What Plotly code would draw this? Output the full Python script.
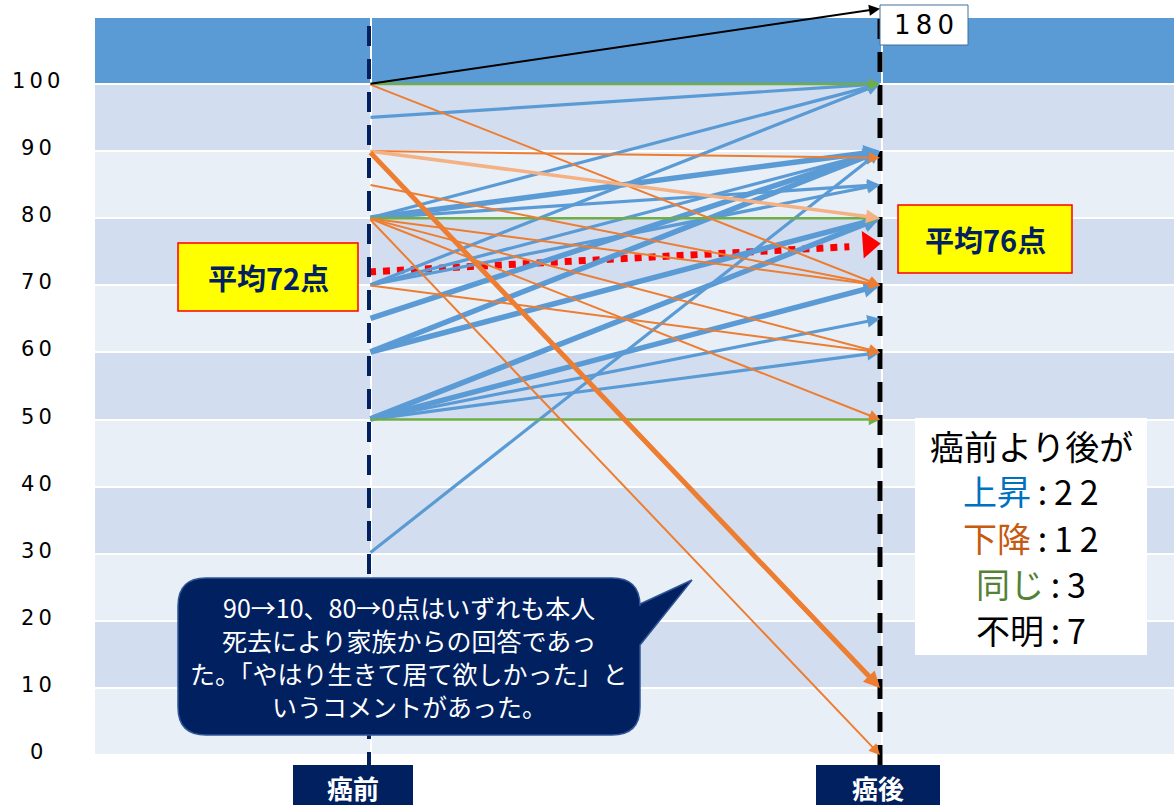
import plotly.graph_objects as go

# ---------------- data ----------------
Y_TICKS = [0, 10, 20, 30, 40, 50, 60, 70, 80, 90, 100]
STAGES = ["癌前", "癌後"]

# rising answers (before -> after) and number of respondents per arrow
UP_BEFORE = [95, 80, 70, 80, 80, 70, 70, 65, 60, 60, 30, 50, 50, 50, 50]
UP_AFTER = [100, 100, 100, 90, 85, 85, 90, 90, 90, 80, 90, 80, 70, 65, 60]
UP_COUNT = [1, 1, 1, 2, 1, 1, 1, 2, 2, 2, 1, 2, 2, 1, 1]

# falling answers
DOWN_BEFORE = [100, 90, 85, 80, 80, 80, 80, 70, 90, 90]
DOWN_AFTER = [70, 89, 70, 70, 60, 50, 0, 60, 80, 10]
DOWN_COUNT = [1, 1, 1, 2, 1, 1, 1, 1, 2, 1]

# unchanged answers
SAME_VALUES = [100, 80, 50]

# off-scale answer
OFF_BEFORE = 100
OFF_LABEL = "180"

MEAN_BEFORE = 72
MEAN_AFTER = 76

SUMMARY_TITLE = "癌前より後が"
SUMMARY_LABELS = ["上昇", "下降", "同じ", "不明"]
SUMMARY_COUNTS = [22, 12, 3, 7]

NOTE_LINES = [
    "90→10、80→0点はいずれも本人",
    "死去により家族からの回答であっ",
    "た。「やはり生きて居て欲しかった」と",
    "いうコメントがあった。",
]

# ---------------- geometry ----------------
W, H = 1174, 805
PL, PR, PT, PB = 95, 1174, 8, 757     # plot area in pixels
K = 6.71                               # px per score point
Y0PX = 755                             # pixel of score 0
X0PX, X1PX = 369, 880                  # pixels of the two stages
XS = X1PX - X0PX

y_min = -(PB - Y0PX) / K
y_max = (Y0PX - PT) / K
x_min = -(X0PX - PL) / XS
x_max = 1 + (PR - X1PX) / XS
OFF_POS = y_max - 0.1                  # display position of off-scale value


def px(xp):
    return (xp - PL) / (PR - PL)


def py(yp):
    return (PB - yp) / (PB - PT)


BLUE = "#5B9BD5"
ORANGE = "#ED7D31"
LORANGE = "#F4B183"
GREEN = "#70AD47"
NAVY = "#002060"
JP = "Noto Sans CJK JP"

fig = go.Figure()

# mean dotted line
x_end = 0.94
y_end = MEAN_BEFORE + (MEAN_AFTER - MEAN_BEFORE) * x_end
fig.add_trace(go.Scatter(x=[0, x_end], y=[MEAN_BEFORE, y_end], mode="lines",
                         line=dict(color="#FF0000", width=7, dash="7px,7px"),
                         hoverinfo="skip", showlegend=False))
x_tri = 0.978
fig.add_trace(go.Scatter(x=[x_tri], y=[MEAN_BEFORE + (MEAN_AFTER - MEAN_BEFORE) * x_tri + 0.2],
                         mode="markers",
                         marker=dict(symbol="triangle-right", size=24, color="#FF0000", angle=-4),
                         hoverinfo="skip", showlegend=False))

shapes = []
# bands
for i, v in enumerate(Y_TICKS[:-1]):
    shapes.append(dict(type="rect", xref="paper", yref="y", x0=0, x1=1, y0=v, y1=v + 10,
                       fillcolor="#E9EFF7" if i % 2 == 0 else "#D2DEEF",
                       line=dict(width=0), layer="below"))
shapes.append(dict(type="rect", xref="paper", yref="y", x0=0, x1=1, y0=100, y1=110,
                   fillcolor=BLUE, line=dict(width=0), layer="below"))

# dashed stage lines
shapes.append(dict(type="line", xref="x", yref="paper", x0=0, x1=0, y0=py(805), y1=py(17),
                   line=dict(color=NAVY, width=4, dash="20px,13px")))
shapes.append(dict(type="line", xref="x", yref="paper", x0=1, x1=1, y0=py(765), y1=py(17),
                   line=dict(color="#000000", width=5, dash="20px,13px")))

# stage label boxes
for x0p, x1p in [(293, 413), (816, 940)]:
    shapes.append(dict(type="rect", xref="paper", yref="paper", x0=px(x0p), x1=px(x1p),
                       y0=py(810), y1=py(765), fillcolor=NAVY, line=dict(width=0)))

# mean label boxes
for (x0p, x1p, y0p, y1p) in [(178, 358, 243, 311), (898, 1072, 205, 273)]:
    shapes.append(dict(type="rect", xref="paper", yref="paper", x0=px(x0p), x1=px(x1p),
                       y0=py(y1p), y1=py(y0p), fillcolor="#FFFF00",
                       line=dict(color="#FF0000", width=1.5)))

# 180 box
shapes.append(dict(type="rect", xref="paper", yref="paper", x0=px(880), x1=px(968),
                   y0=py(45), y1=py(5), fillcolor="#FFFFFF",
                   line=dict(color="#41719C", width=1)))

# summary box
shapes.append(dict(type="rect", xref="paper", yref="paper", x0=px(915), x1=px(1147),
                   y0=py(655), y1=py(418), fillcolor="#FFFFFF", line=dict(width=0)))

# callout
x0c, x1c, y0c, y1c, r = 178, 640, 578, 735, 28
pts = [
    ("M", x0c + r, y0c), ("L", x1c - r, y0c), ("Q", x1c, y0c, x1c, y0c + r),
    ("L", x1c, 604), ("L", 692, 580), ("L", x1c, 645),
    ("L", x1c, y1c - r), ("Q", x1c, y1c, x1c - r, y1c),
    ("L", x0c + r, y1c), ("Q", x0c, y1c, x0c, y1c - r),
    ("L", x0c, y0c + r), ("Q", x0c, y0c, x0c + r, y0c),
]
path = ""
for p in pts:
    cmd = p[0]
    coords = p[1:]
    segs = []
    for j in range(0, len(coords), 2):
        segs.append(f"{px(coords[j]):.5f},{py(coords[j + 1]):.5f}")
    path += cmd + " ".join(segs) + " "
path += "Z"
shapes.append(dict(type="path", xref="paper", yref="paper", path=path,
                   fillcolor=NAVY, line=dict(color="#2F5597", width=1.5)))

annotations = []


def arrow(b, a, color, width, size, tip_y=None):
    annotations.append(dict(x=1, y=a if tip_y is None else tip_y, ax=0, ay=b,
                            xref="x", yref="y", axref="x", ayref="y",
                            text="", showarrow=True, arrowhead=2, arrowsize=size,
                            arrowwidth=width, arrowcolor=color, standoff=0, startstandoff=0))


def label(xp, yp, text, size, color, family=JP):
    annotations.append(dict(x=px(xp), y=py(yp), xref="paper", yref="paper", text=text,
                            showarrow=False, xanchor="center", yanchor="middle", align="center",
                            font=dict(family=family, size=size, color=color)))


for b, a, c in zip(UP_BEFORE, UP_AFTER, UP_COUNT):
    if c >= 2:
        arrow(b, a, BLUE, 5.5, 0.6)
    else:
        arrow(b, a, BLUE, 3.2, 0.8)
for v in SAME_VALUES:
    arrow(v, v, GREEN, 2.5, 0.9)
for b, a, c in zip(DOWN_BEFORE, DOWN_AFTER, DOWN_COUNT):
    if b == 90 and a == 10:
        arrow(b, a, ORANGE, 5, 0.65)
    elif b == 90 and a == 80:
        arrow(b, a, LORANGE, 3.5, 0.8)
    else:
        arrow(b, a, ORANGE, 2, 1.1)
arrow(OFF_BEFORE, None, "#000000", 2, 1.1, tip_y=OFF_POS)

# y tick labels
for v in Y_TICKS:
    annotations.append(dict(x=px(36), y=v, xref="paper", yref="y", text="\u2009".join(str(v)),
                            showarrow=False, xanchor="center", yanchor="middle", yshift=3,
                            font=dict(family="DejaVu Sans", size=21, color="#000000")))

# stage labels
for s, cx in zip(STAGES, [353, 878]):
    label(cx, 787, f"<b>{s}</b>", 26, "#FFFFFF")

# mean labels
label(268, 277, f"<b>平均{MEAN_BEFORE}点</b>", 29, NAVY)
label(985, 239, f"<b>平均{MEAN_AFTER}点</b>", 29, NAVY)

# 180 label
label(924, 25, "\u2009".join(OFF_LABEL), 26, "#000000", family="DejaVu Sans")

# summary
sum_colors = ["#0070C0", "#C55A11", "#548235", "#000000"]
label(1031, 445, SUMMARY_TITLE, 34, "#000000")
for i, (lab, cnt, col) in enumerate(zip(SUMMARY_LABELS, SUMMARY_COUNTS, sum_colors)):
    num = "\u2009".join(str(cnt))
    label(1031, 491 + i * 46, f"<span style='color:{col}'>{lab}</span>\u2009:\u2009{num}",
          34, "#000000")

# callout text (one annotation per line)
for i, line in enumerate(NOTE_LINES):
    label(409, 607 + i * 33, line, 25, "#FFFFFF")

fig.update_layout(
    width=W, height=H,
    margin=dict(l=PL, r=W - PR, t=PT, b=H - PB, pad=0),
    paper_bgcolor="#FFFFFF", plot_bgcolor="#FFFFFF",
    showlegend=False,
    xaxis=dict(range=[x_min, x_max], showgrid=True, tickvals=[0.004, 1.004], gridcolor="#FFFFFF",
               gridwidth=2, showticklabels=False, zeroline=False, showline=False, ticks=""),
    yaxis=dict(range=[y_min, y_max], showgrid=True, tick0=0, dtick=10, gridcolor="#FFFFFF",
               gridwidth=2, showticklabels=False, zeroline=False, showline=False, ticks=""),
    shapes=shapes,
    annotations=annotations,
)

fig.write_html("out.html")
